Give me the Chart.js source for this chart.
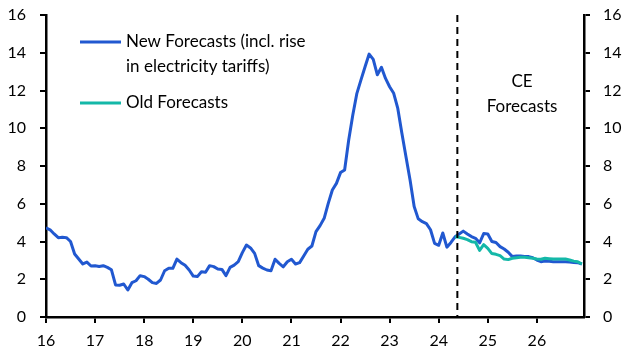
<!DOCTYPE html>
<html>
<head>
  <meta charset="UTF-8">
  <script src="https://cdn.jsdelivr.net/npm/chart.js@4.4.0/dist/chart.umd.min.js"></script>
  <style>
    body { margin: 0; background: #fff; }
    #wrap { width: 634px; height: 363px; position: relative; }
  </style>
</head>
<body>
<div id="wrap"><canvas id="myChart"></canvas></div>
<script>
  // monthly values, Jan 2016 .. Dec 2026 (x axis in years, 16 = 2016)
  const startYear = 16;
  const newForecasts = [
    4.73, 4.62, 4.40, 4.20, 4.22, 4.20, 4.00, 3.34, 3.07, 2.81, 2.91, 2.70,
    2.72, 2.68, 2.72, 2.63, 2.50, 1.70, 1.68, 1.75, 1.43, 1.82, 1.92, 2.19,
    2.14, 2.00, 1.82, 1.78, 1.96, 2.45, 2.58, 2.58, 3.07, 2.88, 2.74, 2.49,
    2.17, 2.14, 2.40, 2.37, 2.72, 2.67, 2.54, 2.52, 2.19, 2.63, 2.75, 2.93,
    3.41, 3.81, 3.66, 3.37, 2.72, 2.59, 2.49, 2.45, 3.06, 2.84, 2.66, 2.93,
    3.06, 2.81, 2.88, 3.23, 3.59, 3.76, 4.52, 4.84, 5.23, 6.02, 6.73, 7.08,
    7.65, 7.79, 9.38, 10.70, 11.85, 12.56, 13.26, 13.93, 13.65, 12.83, 13.23, 12.64,
    12.20, 11.85, 11.05, 9.73, 8.49, 7.26, 5.85, 5.20, 5.05, 4.95, 4.62, 3.90,
    3.80, 4.45, 3.70, 3.95, 4.25, 4.40, 4.55, 4.40, 4.26, 4.17, 3.93, 4.42,
    4.40, 4.00, 3.95, 3.73, 3.60, 3.43, 3.20, 3.23, 3.23, 3.20, 3.20, 3.14,
    3.02, 2.93, 2.96, 2.95, 2.93, 2.93, 2.93, 2.93, 2.91, 2.89, 2.88, 2.81
  ];
  // old forecasts start in May 2024 (month index 100)
  const oldStartIndex = 100;
  const oldForecasts = [
    4.25, 4.22, 4.17, 4.10, 3.99, 3.96, 3.53, 3.83,
    3.64, 3.36, 3.32, 3.25, 3.07, 3.04, 3.11, 3.14, 3.16, 3.16, 3.14, 3.11,
    3.07, 3.06, 3.11, 3.09, 3.07, 3.07, 3.07, 3.07, 3.02, 2.96, 2.93, 2.81
  ];
  const yearTicks = [16, 17, 18, 19, 20, 21, 22, 23, 24, 25, 26];
  const xMin = 16, xMax = 26.96;
  const yMin = 0, yMax = 16, yStep = 2;
  const forecastStart = 24.38;

  const blue = '#2158d0';
  const teal = '#14b8a8';
  const fontFamily = 'Lato, "Open Sans", sans-serif';

  const newPts = newForecasts.map((v, i) => ({ x: startYear + i / 12, y: v }));
  const oldPts = oldForecasts.map((v, i) => ({ x: startYear + (oldStartIndex + i) / 12, y: v }));

  // dashed forecast line, legend and the "CE Forecasts" note
  const extras = {
    id: 'extras',
    afterDatasetsDraw(chart) {
      const ctx = chart.ctx;
      const area = chart.chartArea;
      const xPix = chart.scales.x.getPixelForValue(forecastStart);
      ctx.save();
      ctx.strokeStyle = '#000';
      ctx.lineWidth = 2;
      ctx.setLineDash([7, 5]);
      ctx.beginPath();
      ctx.moveTo(xPix, area.top);
      ctx.lineTo(xPix, area.bottom);
      ctx.stroke();
      ctx.setLineDash([]);

      ctx.lineWidth = 3;
      ctx.strokeStyle = blue;
      ctx.beginPath(); ctx.moveTo(80, 42); ctx.lineTo(121, 42); ctx.stroke();
      ctx.strokeStyle = teal;
      ctx.beginPath(); ctx.moveTo(80, 103); ctx.lineTo(121, 103); ctx.stroke();

      ctx.fillStyle = '#000';
      ctx.font = '17px ' + fontFamily;
      ctx.textBaseline = 'middle';
      ctx.textAlign = 'left';
      ctx.fillText('New Forecasts (incl. rise', 126, 42);
      ctx.fillText('in electricity tariffs)', 126, 67);
      ctx.fillText('Old Forecasts', 126, 103);

      ctx.textAlign = 'center';
      ctx.fillText('CE', 522, 82);
      ctx.fillText('Forecasts', 522, 107);
      ctx.restore();
    }
  };

  const axisGrid = { drawOnChartArea: false, drawTicks: true, tickLength: 6, color: '#000', lineWidth: 2 };
  const axisBorder = { color: '#000', width: 2.5 };
  const tickFont = { family: fontFamily, size: 16 };
  const fitY = w => s => { s.width = w; s.paddingTop = 0; s.paddingBottom = 0; };

  new Chart(document.getElementById('myChart'), {
    type: 'line',
    data: {
      datasets: [
        { label: 'Old Forecasts', data: oldPts, borderColor: teal, borderWidth: 3, pointRadius: 0, tension: 0, borderJoinStyle: 'round' },
        { label: 'New Forecasts', data: newPts, borderColor: blue, borderWidth: 3, pointRadius: 0, tension: 0, borderJoinStyle: 'round' }
      ]
    },
    options: {
      responsive: true,
      maintainAspectRatio: false,
      animation: false,
      layout: { padding: { top: 15, left: 0, right: 0, bottom: 0 } },
      plugins: { legend: { display: false }, tooltip: { enabled: false } },
      scales: {
        x: {
          type: 'linear', min: xMin, max: xMax,
          grid: axisGrid, border: axisBorder,
          ticks: { color: '#000', font: tickFont, maxRotation: 0, autoSkip: false, padding: 8 },
          afterBuildTicks: s => { s.ticks = yearTicks.map(v => ({ value: v })); },
          afterFit: s => { s.height = 46; s.paddingLeft = 0; s.paddingRight = 0; }
        },
        y: {
          position: 'left', min: yMin, max: yMax,
          grid: axisGrid, border: axisBorder,
          ticks: { stepSize: yStep, color: '#000', font: tickFont, padding: 14 },
          afterFit: fitY(46)
        },
        y2: {
          position: 'right', min: yMin, max: yMax,
          grid: axisGrid, border: axisBorder,
          ticks: { stepSize: yStep, color: '#000', font: tickFont, padding: 13 },
          afterFit: fitY(50)
        }
      }
    },
    plugins: [extras]
  });
</script>
</body>
</html>
